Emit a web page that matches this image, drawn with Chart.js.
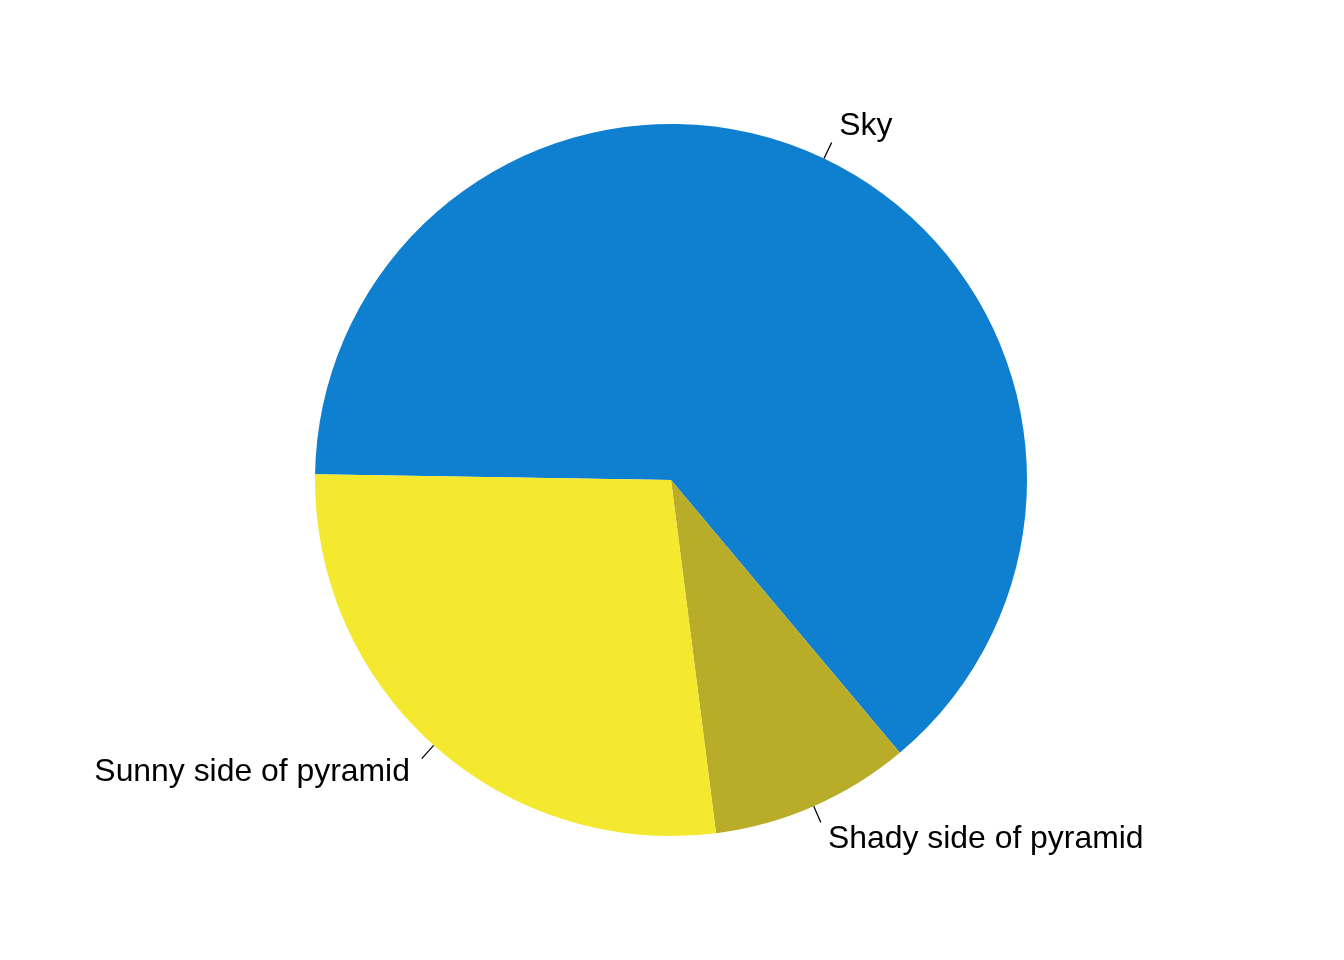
<!DOCTYPE html>
<html>
<head>
<meta charset="utf-8">
<script src="https://cdn.jsdelivr.net/npm/chart.js@4"></script>
<style>
html,body{margin:0;padding:0;background:#fff;}
#wrap{width:1344px;height:960px;}
</style>
</head>
<body>
<div id="wrap"><canvas id="c" width="1344" height="960"></canvas></div>
<script>
// Slices listed in clockwise drawing order
const categories = ["Sky", "Shady side of pyramid", "Sunny side of pyramid"];
const values = [7, 1, 3];
const colors = ["#0F7FCF", "#B8AC28", "#F4E92E"];

const labelPlugin = {
  id: 'pieLabels',
  afterDatasetsDraw(chart) {
    const ctx = chart.ctx;
    const meta = chart.getDatasetMeta(0);
    ctx.save();
    ctx.font = '31.9px "Liberation Sans", Arial, sans-serif';
    ctx.fillStyle = '#000';
    ctx.strokeStyle = '#000';
    ctx.lineWidth = 1.3;
    meta.data.forEach((arc, i) => {
      const p = arc.getProps(['x','y','startAngle','endAngle','outerRadius'], true);
      const mid = (p.startAngle + p.endAngle) / 2;
      const r = p.outerRadius;
      const c = Math.cos(mid), s = Math.sin(mid);
      ctx.beginPath();
      ctx.moveTo(p.x + r * c, p.y + r * s);
      ctx.lineTo(p.x + 1.05 * r * c, p.y + 1.05 * r * s);
      ctx.stroke();
      const tx = p.x + 1.1 * r * c, ty = p.y + 1.1 * r * s;
      ctx.textAlign = c > 0 ? 'left' : 'right';
      ctx.textBaseline = 'middle';
      ctx.fillText(chart.data.labels[i], tx, ty);
    });
    ctx.restore();
  }
};

new Chart(document.getElementById('c'), {
  type: 'pie',
  data: {
    labels: categories,
    datasets: [{
      data: values,
      backgroundColor: colors,
      borderWidth: 0,
      hoverOffset: 0
    }]
  },
  options: {
    responsive: false,
    animation: false,
    rotation: 270.91,
    layout: { padding: { left: 315, right: 317, top: 124, bottom: 124 } },
    plugins: {
      legend: { display: false },
      tooltip: { enabled: false }
    }
  },
  plugins: [labelPlugin]
});
</script>
</body>
</html>
